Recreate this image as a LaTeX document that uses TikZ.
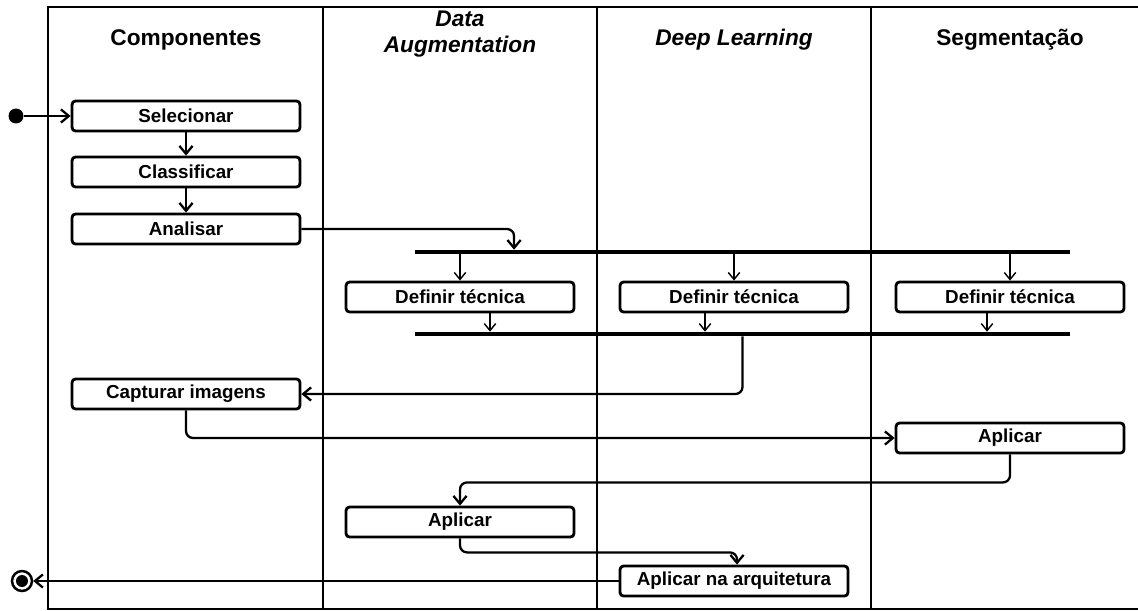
\documentclass[tikz,border=0pt]{standalone}
\usepackage{fontspec}
\setmainfont{Liberation Sans}
\usetikzlibrary{arrows.meta}

\tikzset{
	acao/.style={draw, line width=1.6pt, rounded corners=2pt, minimum width=4.56cm, minimum height=0.6cm, inner sep=0pt, font=\fontsize{10.7}{12}\selectfont\bfseries},
	raia/.style={align=center, font=\fontsize{12.9}{15.3}\selectfont\bfseries},
	barra/.style={fill=black, minimum width=13.1cm, minimum height=2.2pt, inner sep=0pt},
	fluxo/.style={->, >={Straight Barb[length=4.5pt,width=7.5pt]}, line width=1.3pt, rounded corners=4pt},
	fluxofino/.style={->, >={Straight Barb[length=4pt,width=6.5pt]}, line width=0.8pt}
}

\begin{document}
\begin{tikzpicture}[x=0.02cm, y=-0.02cm]
	\useasboundingbox (0,0) rectangle (1138,611);

	% raias
	\draw[line width=1.4pt] (48,7) rectangle (1150,609);
	\draw[line width=1.6pt] (323,7) -- (323,609);
	\draw[line width=1.6pt] (597,7) -- (597,609);
	\draw[line width=1.1pt] (871,7) -- (871,609);

	\node[raia] (r1) at (186,40) {Componentes};
	\node[raia, font=\fontsize{12.9}{15.3}\selectfont\bfseries\itshape] (r2) at (460,34) {Data\\Augmentation};
	\node[raia, font=\fontsize{12.9}{15.3}\selectfont\bfseries\itshape] (r3) at (734,40) {Deep Learning};
	\node[raia] (r4) at (1010,40) {Segmentação};

	% acoes
	\node[circle, fill, inner sep=0pt, minimum size=0.3cm] (inicio) at (16,116) {};
	\node[acao] (sel) at (186,116) {Selecionar};
	\node[acao] (cla) at (186,172) {Classificar};
	\node[acao] (ana) at (186,229) {Analisar};

	\node[barra] (fork) at (742.5,252) {};
	\node[acao] (def1) at (460,297) {Definir técnica};
	\node[acao] (def2) at (734,297) {Definir técnica};
	\node[acao] (def3) at (1010,297) {Definir técnica};
	\node[barra] (join) at (742.5,334) {};

	\node[acao] (cap) at (186,394) {Capturar imagens};
	\node[acao] (aplseg) at (1010,438) {Aplicar};
	\node[acao] (aplda) at (460,522) {Aplicar};
	\node[acao] (arq) at (734,581) {Aplicar na arquitetura};

	\node[circle, draw, line width=1.4pt, inner sep=0pt, minimum size=0.4cm] (fim) at (22,581) {};
	\node[circle, fill, inner sep=0pt, minimum size=0.24cm] (fimc) at (fim) {};

	% fluxos
	\draw[fluxo] (inicio) -- (sel);
	\draw[fluxo] (sel) -- (cla);
	\draw[fluxo] (cla) -- (ana);
	\draw[fluxo] (ana.east) -| ([xshift=-4.57cm]fork.north);

	\draw[fluxofino] (fork.south -| def1) -- (def1);
	\draw[fluxofino] (fork.south -| def2) -- (def2);
	\draw[fluxofino] (fork.south -| def3) -- (def3);

	\draw[fluxofino] ([xshift=0.6cm]def1.south) -- ([xshift=0.6cm]def1.south |- join.north);
	\draw[fluxofino] ([xshift=-0.58cm]def2.south) -- ([xshift=-0.58cm]def2.south |- join.north);
	\draw[fluxofino] ([xshift=-0.46cm]def3.south) -- ([xshift=-0.46cm]def3.south |- join.north);

	\draw[fluxo] (join.south) |- (cap);
	\draw[fluxo] (cap) |- (aplseg);
	\draw[fluxo] (aplseg.south) -- ++(0,28) -| (aplda.north);
	\draw[fluxo] (aplda.south) -- ++(0,14) -| ([xshift=0.06cm]arq.north);
	\draw[fluxo] (arq) -- (fim);

\end{tikzpicture}
\end{document}
